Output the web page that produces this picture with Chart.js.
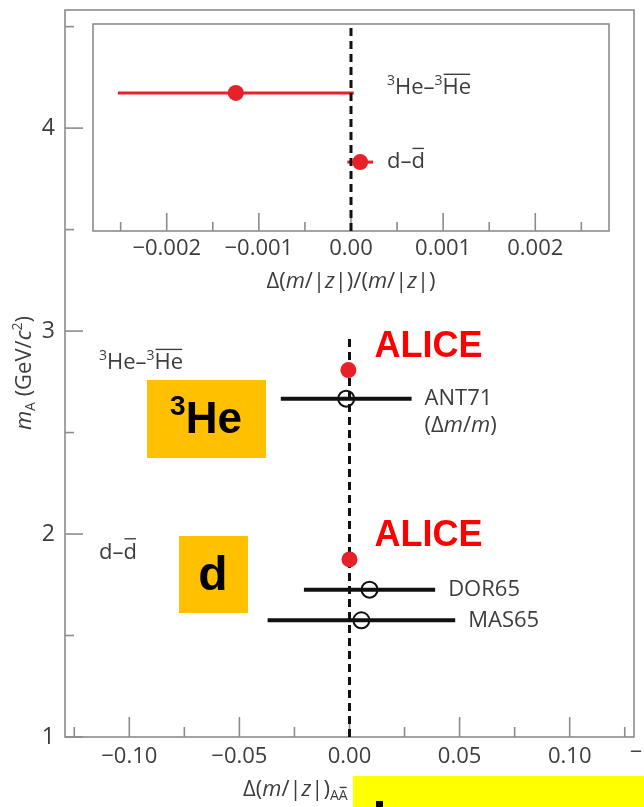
<!DOCTYPE html>
<html>
<head>
<meta charset="utf-8">
<script src="https://cdn.jsdelivr.net/npm/chart.js@4.4.1/dist/chart.umd.min.js"></script>
<style>
  html, body { margin: 0; padding: 0; background: #fff; }
  #wrap { position: relative; width: 644px; height: 807px; overflow: hidden; }
  #mainChart { position: absolute; left: 0; top: 0; }
  #insetChart { position: absolute; left: 66px; top: 10px; }
</style>
</head>
<body>
<div id="wrap">
  <canvas id="mainChart" width="644" height="807"></canvas>
  <canvas id="insetChart" width="560" height="290"></canvas>
</div>
<script>
// ALICE measurements (main panel, GeV/c^2)
const aliceMass = [2.808, 1.875];
const aliceDelta = [-0.0005, 0.0];

// older measurements
const oldNames = ['ANT71', 'DOR65', 'MAS65'];
const oldMass = [2.667, 1.726, 1.575];
const oldDelta = [-0.0015, 0.0091, 0.0054];
const oldErr = [0.0297, 0.0298, 0.0426];

// inset: relative difference
const insetNames = ['He', 'd'];
const insetRow = [0.667, 0.333];
const insetRatio = [-0.00125, 0.0001];
const insetErr = [0.00128, 0.00014];

// ticks
const mainXTicks = [-0.125, -0.1, -0.075, -0.05, -0.025, 0, 0.025, 0.05, 0.075, 0.1, 0.125];
const mainYTicks = [1, 1.5, 2, 2.5, 3, 3.5, 4, 4.5];
const insetXTicks = [-0.0025, -0.002, -0.0015, -0.001, -0.0005, 0, 0.0005, 0.001, 0.0015, 0.002, 0.0025];
const zeroLineTop = 2.97;

const F = "'Open Sans', 'Noto Sans', sans-serif";
const FB = "'Liberation Sans', Arial, sans-serif";
const AX = '#3d3d3d';
const FRAME = '#8c8c8c';
const RED = '#e8202a';

function isMajor(v, step) {
  return Math.abs(v / step - Math.round(v / step)) < 1e-6;
}

function partFont(kind, size, fam, weight) {
  const small = kind === 'sup' || kind === 'sub' || kind === 'subbar';
  const s = small ? Math.round(size * 0.64) : size;
  const style = kind === 'i' ? 'italic ' : '';
  return style + weight + ' ' + s + 'px ' + fam;
}

// draw text made of pieces: normal, italic, sup, sub, overlined
function richText(ctx, x, y, parts, o) {
  const size = o.size, fam = o.family || F, weight = o.weight || 'normal';
  ctx.save();
  ctx.fillStyle = o.color || AX;
  ctx.strokeStyle = o.color || AX;
  ctx.textBaseline = 'middle';
  ctx.textAlign = 'left';
  let total = 0;
  const w = parts.map(([t, k]) => {
    ctx.font = partFont(k, size, fam, weight);
    const m = ctx.measureText(t).width;
    total += m;
    return m;
  });
  let cx = x;
  if (o.align === 'center') cx = x - total / 2;
  else if (o.align === 'right') cx = x - total;
  parts.forEach(([t, k], i) => {
    ctx.font = partFont(k, size, fam, weight);
    let dy = 0;
    if (k === 'sup') dy = -size * 0.32;
    if (k === 'sub' || k === 'subbar') dy = size * 0.28;
    ctx.fillText(t, cx, y + dy);
    if (k === 'bar' || k === 'subbar') {
      const s = k === 'bar' ? size : size * 0.64;
      const top = y + dy - s * 0.62;
      ctx.lineWidth = Math.max(1, size / 16);
      ctx.beginPath();
      ctx.moveTo(cx + 1, top);
      ctx.lineTo(cx + w[i] - 1, top);
      ctx.stroke();
    }
    cx += w[i];
  });
  ctx.restore();
  return total;
}

const heLabel = [['3', 'sup'], ['He\u2013', 'n'], ['3', 'sup'], ['He', 'bar']];
const dLabel = [['d\u2013', 'n'], ['d', 'bar']];

function tickLine(ctx, x1, y1, x2, y2) {
  ctx.beginPath();
  ctx.moveTo(x1, y1);
  ctx.lineTo(x2, y2);
  ctx.stroke();
}

function noPad(s) {
  s.paddingTop = 0;
  s.paddingBottom = 0;
  s.paddingLeft = 0;
  s.paddingRight = 0;
}

// ---------- main panel ----------
const mainDatasets = [];
mainDatasets.push({
  data: aliceDelta.map((d, i) => ({ x: d, y: aliceMass[i] })),
  pointRadius: 8, pointBackgroundColor: RED, pointBorderColor: RED, pointBorderWidth: 0,
  order: 0
});
mainDatasets.push({
  data: oldDelta.map((d, i) => ({ x: d, y: oldMass[i] })),
  pointRadius: 8, pointBackgroundColor: 'rgba(0,0,0,0)', pointBorderColor: '#111', pointBorderWidth: 2,
  order: 1
});
mainDatasets.push({
  data: [{ x: 0, y: 1 }, { x: 0, y: zeroLineTop }],
  showLine: true, borderColor: '#111', borderWidth: 3, borderDash: [8, 5], pointRadius: 0,
  order: 2
});
oldDelta.forEach((d, i) => {
  mainDatasets.push({
    data: [{ x: d - oldErr[i], y: oldMass[i] }, { x: d + oldErr[i], y: oldMass[i] }],
    showLine: true, borderColor: '#111', borderWidth: 4, pointRadius: 0,
    order: 3
  });
});

const mainDecor = {
  id: 'mainDecor',
  beforeDatasetsDraw(chart) {
    const { ctx, chartArea: a, scales: { x, y } } = chart;
    ctx.save();
    ctx.strokeStyle = FRAME;
    ctx.lineWidth = 1.6;
    ctx.strokeRect(a.left, a.top, a.right - a.left, a.bottom - a.top);
    mainXTicks.forEach(v => {
      const px = x.getPixelForValue(v);
      tickLine(ctx, px, a.bottom, px, a.bottom - (isMajor(v, 0.05) ? 20 : 10));
    });
    mainYTicks.forEach(v => {
      const py = y.getPixelForValue(v);
      tickLine(ctx, a.left, py, a.left + (Number.isInteger(v) ? 18 : 9), py);
    });
    ctx.restore();
  },
  afterDraw(chart) {
    const { ctx, scales: { x, y } } = chart;
    const x0 = x.getPixelForValue(0);

    // labels of the old measurements
    oldNames.forEach((n, i) => {
      const px = x.getPixelForValue(oldDelta[i] + oldErr[i]) + 13;
      const py = y.getPixelForValue(oldMass[i]);
      richText(ctx, px, py, [[n, 'n']], { size: 22 });
      if (n === 'ANT71') {
        richText(ctx, px, py + 27, [['(\u0394', 'n'], ['m', 'i'], ['/', 'n'], ['m', 'i'], [')', 'n']], { size: 22 });
      }
    });

    // ALICE labels and group labels
    aliceMass.forEach((m, i) => {
      const py = y.getPixelForValue(m);
      ctx.save();
      ctx.font = 'bold 36px ' + FB;
      ctx.fillStyle = '#ff0000';
      ctx.textBaseline = 'middle';
      ctx.fillText('ALICE', x0 + 25, py - 23);
      ctx.restore();
      richText(ctx, 99, py - 7, i === 0 ? heLabel : dLabel, { size: 22 });
    });

    // y axis title
    ctx.save();
    ctx.translate(25, 373);
    ctx.rotate(-Math.PI / 2);
    richText(ctx, 0, 0, [['m', 'i'], ['A', 'sub'], [' (GeV/', 'n'], ['c', 'i'], ['2', 'sup'], [')', 'n']], { size: 22, align: 'center' });
    ctx.restore();

    // x axis title
    richText(ctx, 243, 790, [['\u0394(', 'n'], ['m', 'i'], ['/|', 'n'], ['z', 'i'], ['|)', 'n'], ['A', 'sub'], ['A', 'subbar'], [' (GeV/', 'n'], ['c', 'i'], ['2', 'sup'], [')', 'n']], { size: 22 });

    // stray dash at the right edge
    richText(ctx, 636, 753, [['\u2212', 'n']], { size: 22, align: 'center' });

    // orange boxes
    ctx.save();
    ctx.fillStyle = '#ffc000';
    ctx.fillRect(147, 380, 119, 78);
    ctx.fillRect(179, 536, 69, 77);
    ctx.restore();
    richText(ctx, 206, 421, [['3', 'sup'], ['He', 'n']], { size: 44, family: FB, weight: 'bold', color: '#000', align: 'center' });
    richText(ctx, 213, 577, [['d', 'n']], { size: 48, family: FB, weight: 'bold', color: '#000', align: 'center' });

    // yellow box at the bottom
    ctx.save();
    ctx.fillStyle = '#ffff00';
    ctx.fillRect(353, 776, 291, 31);
    ctx.fillStyle = '#000';
    ctx.fillRect(376, 801, 7, 6);
    ctx.restore();
  }
};

new Chart(document.getElementById('mainChart'), {
  type: 'scatter',
  data: { datasets: mainDatasets },
  options: {
    responsive: false,
    animation: false,
    devicePixelRatio: 1,
    layout: { padding: { top: 9, right: 8, left: 0, bottom: 0 } },
    plugins: { legend: { display: false }, tooltip: { enabled: false } },
    scales: {
      x: {
        type: 'linear', min: -0.1292, max: 0.1292,
        afterBuildTicks: s => { s.ticks = mainXTicks.map(v => ({ value: v })); },
        afterFit: s => { s.height = 70; noPad(s); },
        grid: { display: false, drawTicks: false },
        border: { display: false },
        ticks: {
          autoSkip: false, maxRotation: 0, padding: 7,
          color: AX, font: { family: F, size: 22 },
          callback: v => isMajor(v, 0.05) ? (v < -1e-9 ? '\u2212' : '') + Math.abs(v).toFixed(2) : ''
        }
      },
      y: {
        type: 'linear', min: 1, max: 4.582,
        afterBuildTicks: s => { s.ticks = mainYTicks.map(v => ({ value: v })); },
        afterFit: s => { s.width = 65; noPad(s); },
        grid: { display: false, drawTicks: false },
        border: { display: false },
        ticks: {
          autoSkip: false, padding: 10,
          color: AX, font: { family: F, size: 23 },
          callback: v => Number.isInteger(v) ? String(v) : ''
        }
      }
    }
  },
  plugins: [mainDecor]
});

// ---------- inset ----------
const insetDatasets = [];
insetDatasets.push({
  data: insetRatio.map((r, i) => ({ x: r, y: insetRow[i] })),
  pointRadius: 8, pointBackgroundColor: RED, pointBorderColor: RED, pointBorderWidth: 0,
  order: 0
});
insetDatasets.push({
  data: [{ x: 0, y: 0 }, { x: 0, y: 1 }],
  showLine: true, borderColor: '#111', borderWidth: 3, borderDash: [8, 5], pointRadius: 0,
  order: 1
});
insetRatio.forEach((r, i) => {
  insetDatasets.push({
    data: [{ x: r - insetErr[i], y: insetRow[i] }, { x: r + insetErr[i], y: insetRow[i] }],
    showLine: true, borderColor: RED, borderWidth: 3, pointRadius: 0,
    order: 2
  });
});

const insetDecor = {
  id: 'insetDecor',
  beforeDatasetsDraw(chart) {
    const { ctx, chartArea: a, scales: { x } } = chart;
    ctx.save();
    ctx.strokeStyle = FRAME;
    ctx.lineWidth = 1.6;
    ctx.strokeRect(a.left, a.top, a.right - a.left, a.bottom - a.top);
    insetXTicks.forEach(v => {
      const px = x.getPixelForValue(v);
      tickLine(ctx, px, a.bottom, px, a.bottom - (isMajor(v, 0.001) ? 18 : 9));
    });
    ctx.restore();
  },
  afterDraw(chart) {
    const { ctx, scales: { x, y } } = chart;
    const lx = x.getPixelForValue(0) + 36;
    insetRow.forEach((r, i) => {
      richText(ctx, lx, y.getPixelForValue(r) - (i === 0 ? 5 : 0), i === 0 ? heLabel : dLabel, { size: 22 });
    });
    richText(ctx, x.getPixelForValue(0), 272,
      [['\u0394(', 'n'], ['m', 'i'], ['/|', 'n'], ['z', 'i'], ['|)/(', 'n'], ['m', 'i'], ['/|', 'n'], ['z', 'i'], ['|)', 'n']],
      { size: 22, align: 'center' });
  }
};

new Chart(document.getElementById('insetChart'), {
  type: 'scatter',
  data: { datasets: insetDatasets },
  options: {
    responsive: false,
    animation: false,
    devicePixelRatio: 1,
    layout: { padding: { top: 14, right: 17, left: 27, bottom: 0 } },
    plugins: { legend: { display: false }, tooltip: { enabled: false } },
    scales: {
      x: {
        type: 'linear', min: -0.0028, max: 0.0028,
        afterBuildTicks: s => { s.ticks = insetXTicks.map(v => ({ value: v })); },
        afterFit: s => { s.height = 69; noPad(s); },
        grid: { display: false, drawTicks: false },
        border: { display: false },
        ticks: {
          autoSkip: false, maxRotation: 0, padding: 5,
          color: AX, font: { family: F, size: 22 },
          callback: v => {
            if (!isMajor(v, 0.001)) return '';
            if (Math.abs(v) < 1e-9) return '0.00';
            return (v < 0 ? '\u2212' : '') + Math.abs(v).toFixed(3);
          }
        }
      },
      y: { type: 'linear', min: 0, max: 1, display: false }
    }
  },
  plugins: [insetDecor]
});
</script>
</body>
</html>
